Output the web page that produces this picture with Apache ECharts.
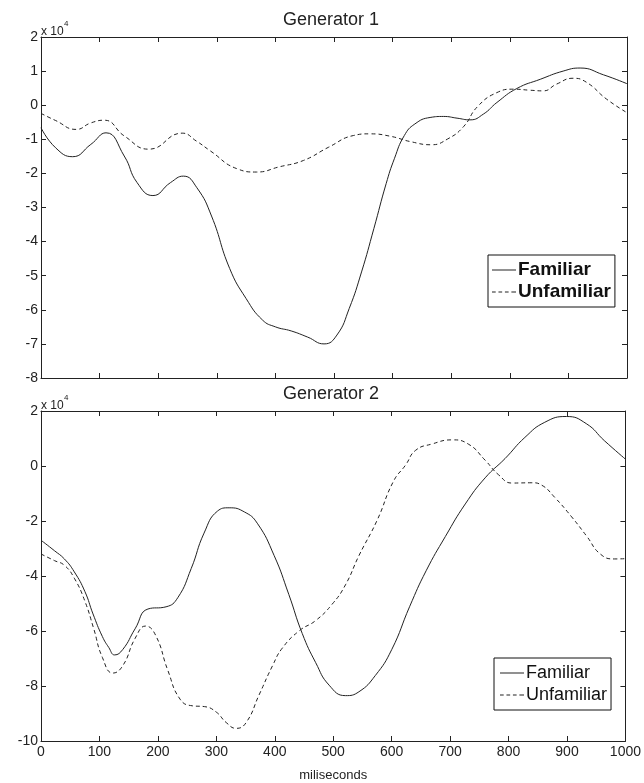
<!DOCTYPE html>
<html>
<head>
<meta charset="utf-8">
<title>Generator 1 / Generator 2</title>
<script src="https://cdn.jsdelivr.net/npm/echarts@6/dist/echarts.min.js"></script>
<style>
  html, body { margin: 0; padding: 0; background: #fff; }
  #main { width: 644px; height: 783px; }
</style>
</head>
<body>
<div id="main"></div>
<script>
// values in units of 10^4, x in miliseconds
var g1FamX = [0, 25, 54, 85, 111, 142, 164, 191, 221, 243, 266, 291, 322, 350, 378, 400, 427, 455, 483, 505, 526, 547, 568, 589, 603, 620, 638, 664, 687, 710, 732, 755, 778, 812, 852, 891, 920, 960, 1000];
var g1FamY = [-0.66, -1.25, -1.51, -1.15, -0.81, -1.49, -2.27, -2.65, -2.27, -2.08, -2.42, -3.25, -4.79, -5.67, -6.3, -6.5, -6.62, -6.8, -7.0, -6.74, -5.96, -4.89, -3.62, -2.3, -1.57, -0.89, -0.55, -0.36, -0.33, -0.38, -0.43, -0.26, 0.08, 0.49, 0.76, 1.0, 1.09, 0.89, 0.63];
var g1UnfX = [0, 25, 60, 85, 108, 142, 184, 241, 265, 289, 334, 368, 406, 448, 491, 533, 561, 596, 631, 666, 694, 721, 745, 778, 806, 834, 857, 880, 908, 931, 965, 1000];
var g1UnfY = [-0.24, -0.45, -0.71, -0.52, -0.44, -0.9, -1.29, -0.82, -1.05, -1.34, -1.86, -1.96, -1.81, -1.62, -1.23, -0.89, -0.84, -0.91, -1.07, -1.16, -0.99, -0.63, -0.04, 0.37, 0.47, 0.44, 0.42, 0.62, 0.79, 0.67, 0.18, -0.22];

var g2FamX = [0, 23, 40, 57, 75, 89, 105, 116, 126, 140, 161, 183, 214, 234, 257, 279, 302, 322, 348, 370, 399, 424, 447, 470, 493, 521, 544, 572, 600, 631, 659, 692, 726, 760, 794, 828, 862, 899, 933, 964, 1000];
var g2FamY = [-2.7, -3.08, -3.38, -3.85, -4.56, -5.38, -6.2, -6.6, -6.87, -6.67, -5.92, -5.2, -5.12, -4.79, -3.73, -2.44, -1.64, -1.52, -1.67, -2.08, -3.26, -4.67, -6.09, -7.15, -7.97, -8.35, -8.21, -7.62, -6.68, -5.1, -3.81, -2.56, -1.38, -0.43, 0.27, 1.04, 1.59, 1.8, 1.54, 0.92, 0.25];
var g2UnfX = [0, 23, 40, 57, 75, 90, 105, 123, 140, 161, 179, 196, 217, 238, 259, 280, 300, 317, 334, 351, 373, 396, 413, 442, 470, 498, 521, 544, 575, 603, 624, 641, 669, 703, 731, 760, 783, 806, 840, 857, 879, 908, 934, 957, 981, 1000];
var g2UnfY = [-3.2, -3.44, -3.61, -4.08, -4.91, -5.9, -6.96, -7.53, -7.26, -6.27, -5.82, -6.15, -7.43, -8.48, -8.72, -8.75, -8.95, -9.33, -9.54, -9.33, -8.33, -7.27, -6.62, -5.99, -5.62, -5.03, -4.32, -3.26, -1.98, -0.56, 0.04, 0.57, 0.8, 0.95, 0.8, 0.21, -0.32, -0.62, -0.61, -0.7, -1.14, -1.85, -2.56, -3.2, -3.38, -3.37];

var legendNames = ['Familiar', 'Unfamiliar'];

function pairs(xs, ys) {
  var out = [];
  for (var i = 0; i < xs.length; i++) out.push([xs[i], ys[i]]);
  return out;
}

var font = 'Liberation Sans, Arial, sans-serif';
var ink = '#222';
var solidIcon = 'path://M0,0h26v1h-26z';
var dashIcon = 'path://M0,0h4v1h-4zM7,0h4v1h-4zM14,0h4v1h-4zM21,0h5v1h-5z';

function xAx(grid, pos, labels, name) {
  return {
    type: 'value', gridIndex: grid, position: pos, min: 0, max: 1000, interval: 100,
    splitLine: { show: false },
    axisLine: { show: true, onZero: false, lineStyle: { color: ink, width: 1 } },
    axisTick: { show: true, inside: true, length: 5, lineStyle: { color: ink } },
    axisLabel: { show: labels, color: ink, fontFamily: font, fontSize: 14, margin: 4,
      formatter: function (v) { return String(v); } },
    name: name || '', nameLocation: 'middle', nameGap: 28,
    nameTextStyle: { color: ink, fontFamily: font, fontSize: 13 }
  };
}
function yAx(grid, pos, labels, min, max, step) {
  return {
    type: 'value', gridIndex: grid, position: pos, min: min, max: max, interval: step,
    splitLine: { show: false },
    axisLine: { show: true, onZero: false, lineStyle: { color: ink, width: 1 } },
    axisTick: { show: true, inside: true, length: 5, lineStyle: { color: ink } },
    axisLabel: { show: labels, color: ink, fontFamily: font, fontSize: 14, margin: 3 }
  };
}
function line(name, data, xi, yi, dashed) {
  return {
    name: name, type: 'line', xAxisIndex: xi, yAxisIndex: yi, data: data,
    smooth: 0.5, showSymbol: false, symbol: 'none', animation: false,
    lineStyle: { color: ink, width: 1, type: dashed ? [4, 3] : 'solid' },
    itemStyle: { color: ink }
  };
}
function legendAt(left, top, bold, size, padL) {
  return {
    data: [
      { name: legendNames[0], icon: solidIcon },
      { name: legendNames[1], icon: dashIcon }
    ],
    orient: 'vertical', left: left, top: top,
    itemWidth: 24, itemHeight: 1, itemGap: 2, padding: [5, 4, 5, padL],
    symbolKeepAspect: false,
    borderColor: '#111', borderWidth: 1, backgroundColor: '#fff', borderRadius: 0,
    textStyle: { color: '#111', fontFamily: font, fontSize: size, lineHeight: 20,
      fontWeight: bold ? 'bold' : 'normal', padding: [0, 0, 0, -3] },
    selectedMode: false
  };
}

var chart = echarts.init(document.getElementById('main'));
chart.setOption({
  animation: false,
  backgroundColor: '#fff',
  graphic: [
    { type: 'text', left: 283, top: 11, style: { text: 'Generator 1', font: '18px ' + font, fill: ink } },
    { type: 'text', left: 283, top: 385, style: { text: 'Generator 2', font: '18px ' + font, fill: ink } },
    { type: 'text', left: 41, top: 26, style: { text: 'x 10', font: '12px ' + font, fill: ink } },
    { type: 'text', left: 64, top: 20, style: { text: '4', font: '8px ' + font, fill: ink } },
    { type: 'text', left: 41, top: 400, style: { text: 'x 10', font: '12px ' + font, fill: ink } },
    { type: 'text', left: 64, top: 394, style: { text: '4', font: '8px ' + font, fill: ink } }
  ],
  grid: [
    { left: 41, right: 17, top: 37, height: 341 },
    { left: 41, right: 17, top: 411, height: 340 }
  ],
  xAxis: [
    xAx(0, 'bottom', false),
    xAx(0, 'top', false),
    xAx(1, 'bottom', true, 'miliseconds'),
    xAx(1, 'top', false)
  ],
  yAxis: [
    yAx(0, 'left', true, -8, 2, 1),
    yAx(0, 'right', false, -8, 2, 1),
    yAx(1, 'left', true, -10, 2, 2),
    yAx(1, 'right', false, -10, 2, 2)
  ],
  legend: [
    legendAt(488, 255, true, 19, 4),
    legendAt(494, 658, false, 18, 6)
  ],
  series: [
    line('Familiar', pairs(g1FamX, g1FamY), 0, 0, false),
    line('Unfamiliar', pairs(g1UnfX, g1UnfY), 0, 0, true),
    line('Familiar', pairs(g2FamX, g2FamY), 2, 2, false),
    line('Unfamiliar', pairs(g2UnfX, g2UnfY), 2, 2, true)
  ]
});
</script>
</body>
</html>
